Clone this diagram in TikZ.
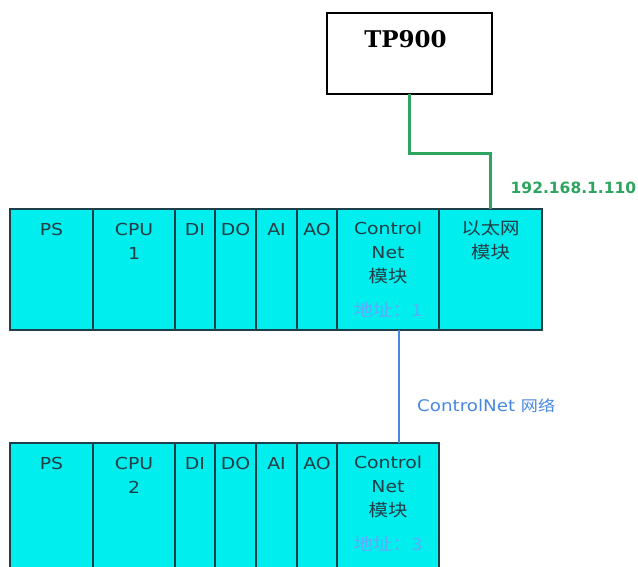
\documentclass[tikz,border=0pt]{standalone}
\usepackage{fontspec}
\setmainfont[FakeStretch=1.14]{DejaVu Sans}
\newfontfamily\cjk[FakeStretch=1.14]{Noto Sans CJK SC}
\newfontfamily\tpfont{DejaVu Serif}
\newfontfamily\ipfont{DejaVu Sans}
\usetikzlibrary{calc,positioning}
\definecolor{modCyan}{RGB}{0,238,238}
\definecolor{modEdge}{RGB}{30,62,72}
\definecolor{modText}{RGB}{35,60,70}
\definecolor{netGreen}{RGB}{45,165,95}
\definecolor{netBlue}{RGB}{72,135,225}
\definecolor{addrBlue}{RGB}{95,170,250}

\tikzset{
  module/.style={draw=modEdge, line width=1.5pt, fill=modCyan, anchor=north west,
    inner sep=0pt, outer sep=0pt},
  modtext/.style={anchor=base, align=center, inner sep=0pt, text=modText,
    font=\fontsize{16.5}{24}\selectfont},
  greenline/.style={draw=netGreen, line width=3pt},
  blueline/.style={draw=netBlue, line width=2.5pt},
}

\begin{document}
\begin{tikzpicture}[x=1pt,y=-1pt]
    \useasboundingbox (0,0) rectangle (638,566);
    % TP900 panel
    \node[draw, line width=2pt, minimum width=165pt, minimum height=81pt,
      anchor=north west, inner sep=0pt, outer sep=0pt] (tp) at (327,13) {};
    \node[anchor=base, inner sep=0pt,
      font=\tpfont\bfseries\fontsize{23}{23}\selectfont] (tp-txt)
      at ([xshift=-4pt,yshift=-34pt]tp.north) {TP900};
    % both racks (base of the last text line)
    \foreach \rk/\y/\h in {1/209/121, 2/443/130} {
      \foreach \nm/\xa/\w/\dy/\txt in {ps/10/83/26/PS, cpu/93/82/50/{CPU\\\rk},
          di/175/40/26/DI, dio/215/41/26/DO, ai/256/41/26/AI, ao/297/40/26/AO} {
        \node[module, minimum width=\w pt, minimum height=\h pt] (\nm\rk) at (\xa,\y) {};
        \node[modtext] (\nm\rk-txt) at ([yshift=-\dy pt]\nm\rk.north) {\txt};
      }
      \node[module, minimum width=102pt, minimum height=\h pt] (cn\rk) at (337,\y) {};
      \node[modtext] (cn\rk-txt) at ([yshift=-73pt]cn\rk.north)
        {Control\\Net\\{\cjk\fontsize{17}{24}\selectfont 模块}};
    }
    \node[modtext, text=addrBlue, font=\cjk\fontsize{17}{24}\selectfont] (addr1)
      at ([yshift=-107pt]cn1.north) {地址：1};
    \node[modtext, text=addrBlue, font=\cjk\fontsize{17}{24}\selectfont] (addr2)
      at ([yshift=-107pt]cn2.north) {地址：3};
    % ethernet module
    \node[module, minimum width=103pt, minimum height=121pt] (eth1) at (439,209) {};
    \node[modtext, font=\cjk\fontsize{17}{24}\selectfont] (eth1-txt)
      at ([yshift=-49pt]eth1.north) {以太网\\模块};
    % networks
    \draw[greenline] (tp.south) -- ++(0,59) -| (eth1.north);
    \node[anchor=base west, inner sep=0pt, text=netGreen,
      font=\ipfont\bfseries\fontsize{15.5}{15.5}\selectfont] (ip)
      at ([xshift=20pt,yshift=16pt]eth1.north) {192.168.1.110};
    \draw[blueline] ([xshift=11pt]cn1.south) -- ([xshift=11pt]cn2.north);
    \node[anchor=base west, inner sep=0pt, text=netBlue,
      font=\fontsize{16}{16}\selectfont] (cnet)
      at ([xshift=29pt,yshift=-81pt]cn1.south) {ControlNet {\cjk\fontsize{15}{15}\selectfont 网络}};
\end{tikzpicture}
\end{document}
